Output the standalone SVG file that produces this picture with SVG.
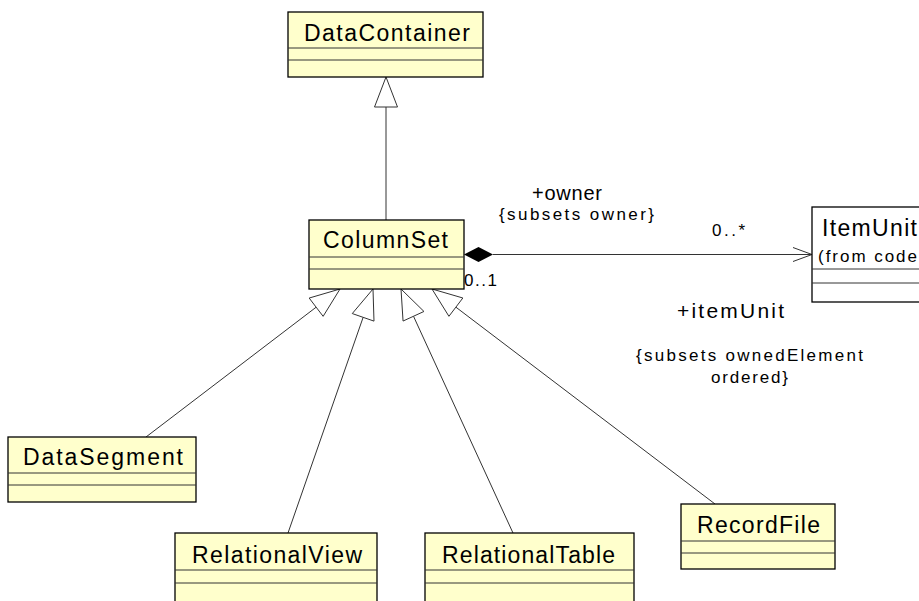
<svg xmlns="http://www.w3.org/2000/svg" width="919" height="601" viewBox="0 0 919 601">
<style>
.box{fill:#FFFFCC;stroke:#000;stroke-width:1.3}
.div{stroke:#333;stroke-width:1}
.name{font-family:"Liberation Sans",Arial,sans-serif;font-size:23px;fill:#000}
.lbl{font-family:"Liberation Sans",Arial,sans-serif;fill:#000}
.edge{stroke:#333;stroke-width:1;fill:none}
.tri{fill:#fff;stroke:#333;stroke-width:1}
</style>
<rect width="919" height="601" fill="#fff"/>
<g id="connectors">
<line class="edge" x1="386" y1="220" x2="386" y2="107"/>
<polygon class="tri" points="386,77 374.5,107 397.5,107"/>
<line class="edge" x1="146" y1="437" x2="316.15" y2="307.2"/>
<polygon class="tri" points="340,289 323.13,316.34 309.17,298.06"/>
<line class="edge" x1="288" y1="533" x2="363.13" y2="317.33"/>
<polygon class="tri" points="373,289 373.99,321.11 352.27,313.55"/>
<line class="edge" x1="513" y1="533" x2="413.51" y2="316.26"/>
<polygon class="tri" points="401,289 423.96,311.46 403.06,321.06"/>
<line class="edge" x1="715" y1="504" x2="455.89" y2="307.15"/>
<polygon class="tri" points="432,289 462.85,297.99 448.93,316.31"/>
<line class="edge" x1="493" y1="254.5" x2="812" y2="254.5"/>
<polygon points="464,254.5 478.5,247 493,254.5 478.5,262" fill="#000"/>
<polyline class="edge" points="793,247.5 812,254.5 793,261.5"/>
<text class="lbl" x="532" y="200" font-size="20" textLength="70" lengthAdjust="spacing">+owner</text>
<text class="lbl" x="499" y="220" font-size="17" textLength="155" lengthAdjust="spacing">{subsets owner}</text>
<text class="lbl" x="712" y="236" font-size="17" textLength="33" lengthAdjust="spacing">0..*</text>
<text class="lbl" x="464" y="286" font-size="17" textLength="33" lengthAdjust="spacing">0..1</text>
<text class="lbl" x="677" y="318" font-size="21" textLength="107" lengthAdjust="spacing">+itemUnit</text>
<text class="lbl" x="636" y="361" font-size="17" textLength="227" lengthAdjust="spacing">{subsets ownedElement</text>
<text class="lbl" x="711" y="383" font-size="17" textLength="77" lengthAdjust="spacing">ordered}</text>
</g>
<g id="DataContainer">
<rect class="box" x="288" y="12" width="195" height="65"/>
<line class="div" x1="288" y1="48" x2="483" y2="48"/>
<line class="div" x1="288" y1="60" x2="483" y2="60"/>
<text class="name" x="304" y="41" textLength="166" lengthAdjust="spacing">DataContainer</text>
</g>
<g id="ColumnSet">
<rect class="box" x="309" y="220" width="155" height="69"/>
<line class="div" x1="309" y1="257" x2="464" y2="257"/>
<line class="div" x1="309" y1="269" x2="464" y2="269"/>
<text class="name" x="323" y="248" textLength="125" lengthAdjust="spacing">ColumnSet</text>
</g>
<g id="ItemUnit">
<rect class="box" x="812" y="207" width="120" height="95" style="fill:#fff"/>
<line class="div" x1="812" y1="269" x2="932" y2="269"/>
<line class="div" x1="812" y1="283" x2="932" y2="283"/>
<text class="name" x="822" y="236" textLength="95" lengthAdjust="spacing">ItemUnit</text>
<text class="lbl" x="818" y="262" font-size="17" textLength="99" lengthAdjust="spacing">(from code</text>
</g>
<g id="DataSegment">
<rect class="box" x="8" y="437" width="188" height="65"/>
<line class="div" x1="8" y1="473" x2="196" y2="473"/>
<line class="div" x1="8" y1="485" x2="196" y2="485"/>
<text class="name" x="23" y="465" textLength="160" lengthAdjust="spacing">DataSegment</text>
</g>
<g id="RelationalView">
<rect class="box" x="175" y="533" width="202" height="90"/>
<line class="div" x1="175" y1="570" x2="377" y2="570"/>
<line class="div" x1="175" y1="583" x2="377" y2="583"/>
<text class="name" x="192" y="563" textLength="170" lengthAdjust="spacing">RelationalView</text>
</g>
<g id="RelationalTable">
<rect class="box" x="425" y="533" width="209" height="90"/>
<line class="div" x1="425" y1="570" x2="634" y2="570"/>
<line class="div" x1="425" y1="583" x2="634" y2="583"/>
<text class="name" x="442" y="563" textLength="173" lengthAdjust="spacing">RelationalTable</text>
</g>
<g id="RecordFile">
<rect class="box" x="681" y="504" width="154" height="65"/>
<line class="div" x1="681" y1="541" x2="835" y2="541"/>
<line class="div" x1="681" y1="553" x2="835" y2="553"/>
<text class="name" x="697" y="533" textLength="123" lengthAdjust="spacing">RecordFile</text>
</g>
</svg>
